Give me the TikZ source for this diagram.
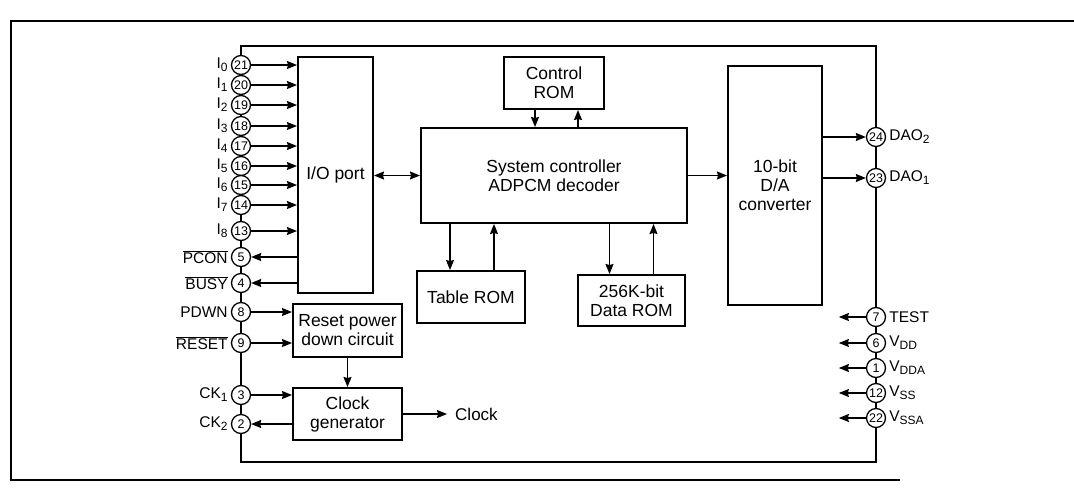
\documentclass[tikz,border=0pt]{standalone}
\usepackage{fontspec}
\setmainfont{Liberation Sans}
\usepackage{tikz}
\usetikzlibrary{arrows.meta,positioning,backgrounds}
\newcommand{\pinsub}[1]{\raisebox{-0.35ex}{\fontsize{12}{12}\selectfont #1}}

\begin{document}
\begin{tikzpicture}[
    x=1pt, y=-1pt,
    block/.style={rectangle, draw, line width=2pt, inner sep=0pt, align=center, font=\fontsize{17.5}{19}\selectfont},
    pin/.style={circle, draw, fill=white, line width=1.3pt, minimum size=19pt, inner sep=0pt, font=\fontsize{12.5}{12.5}\selectfont},
    lab/.style={font=\fontsize{15.5}{15.5}\selectfont, inner sep=3pt},
    arrow/.style={-{Stealth[length=10pt, width=8pt, inset=1pt]}, line width=1.3pt},
    chip/.style={line width=2pt},
]
    \useasboundingbox (0,0) rectangle (1074,491);
    \draw[line width=1.5pt] (1074,21) -- (11,21) -- (11,480) -- (900,480);

    % Blocks
    \node[block, minimum width=266pt, minimum height=95pt] (sys) at (554,175.5) {System controller\\ADPCM decoder};
    \node[block, minimum width=100pt, minimum height=52pt, above=17pt of sys] (ctrl) {Control\\ROM};
    \node[block, minimum width=75pt, minimum height=236pt] (io) at (335.5,175) {I/O port};
    \node[block, minimum width=108pt, minimum height=52pt] (tab) at (471,297) {Table ROM};
    \node[block, minimum width=107pt, minimum height=51pt] (dat) at (631.5,300.5) {256K-bit\\Data ROM};
    \node[block, minimum width=94pt, minimum height=239pt] (dac) at (775,185.5) {10-bit\\D/A\\converter};
    \node[block, minimum width=109pt, minimum height=53pt] (rst) at (347.5,330.5) {Reset power\\down circuit};
    \node[block, minimum width=109pt, minimum height=52pt, below=29pt of rst] (clk) {Clock\\generator};
    \node[right=52pt of clk, inner sep=0pt, font=\fontsize{17}{17}\selectfont] (clkout) {Clock};

    % Left pins
    \node[pin, label={[lab]left:I\pinsub{0}}] (p21) at (241,65) {21};
    \node[pin, label={[lab]left:I\pinsub{1}}] (p20) at (241,85) {20};
    \node[pin, label={[lab]left:I\pinsub{2}}] (p19) at (241,105) {19};
    \node[pin, label={[lab]left:I\pinsub{3}}] (p18) at (241,126) {18};
    \node[pin, label={[lab]left:I\pinsub{4}}] (p17) at (241,146) {17};
    \node[pin, label={[lab]left:I\pinsub{5}}] (p16) at (241,166) {16};
    \node[pin, label={[lab]left:I\pinsub{6}}] (p15) at (241,185) {15};
    \node[pin, label={[lab]left:I\pinsub{7}}] (p14) at (241,205) {14};
    \node[pin, label={[lab]left:I\pinsub{8}}] (p13) at (241,231) {13};
    \node[pin, label={[lab]left:$\overline{\mbox{PCON}}$}] (p5) at (241,257) {5};
    \node[pin, label={[lab]left:$\overline{\mbox{BUSY}}$}] (p4) at (241,283) {4};
    \node[pin, label={[lab]left:PDWN}] (p8) at (241,312) {8};
    \node[pin, label={[lab]left:$\overline{\mbox{RESET}}$}] (p9) at (241,343) {9};
    \node[pin, label={[lab]left:CK\pinsub{1}}] (p3) at (241,395) {3};
    \node[pin, label={[lab]left:CK\pinsub{2}}] (p2) at (241,424) {2};

    % Right pins
    \node[pin, label={[lab]right:DAO\pinsub{2}}] (p24) at (876,137) {24};
    \node[pin, label={[lab]right:DAO\pinsub{1}}] (p23) at (876,178) {23};
    \node[pin, label={[lab]right:TEST}] (p7) at (876,317) {7};
    \node[pin, label={[lab]right:V\pinsub{DD}}] (p6) at (876,343) {6};
    \node[pin, label={[lab]right:V\pinsub{DDA}}] (p1) at (876,368) {1};
    \node[pin, label={[lab]right:V\pinsub{SS}}] (p12) at (876,393) {12};
    \node[pin, label={[lab]right:V\pinsub{SSA}}] (p22) at (876,418) {22};

    % Package outline
    \coordinate (ctop) at (560,46);
    \coordinate (cbot) at (560,462);
    \begin{scope}[on background layer]
        \draw[chip] (p21.center) -- (p2.center);
        \draw[chip] (p21.center) |- (ctop) -| (p24.center);
        \draw[chip] (p24.center) -- (p22.center);
        \draw[chip] (p2.center) |- (cbot) -| (p22.center);
    \end{scope}

    % Inputs to I/O port
    \draw[arrow] (p21) -- (p21 -| io.west);
    \draw[arrow] (p20) -- (p20 -| io.west);
    \draw[arrow] (p19) -- (p19 -| io.west);
    \draw[arrow] (p18) -- (p18 -| io.west);
    \draw[arrow] (p17) -- (p17 -| io.west);
    \draw[arrow] (p16) -- (p16 -| io.west);
    \draw[arrow] (p15) -- (p15 -| io.west);
    \draw[arrow] (p14) -- (p14 -| io.west);
    \draw[arrow] (p13) -- (p13 -| io.west);
    \draw[arrow] (io.west |- p5) -- (p5);
    \draw[arrow] (io.west |- p4) -- (p4);

    % Reset and clock
    \draw[arrow] (p8) -- (p8 -| rst.west);
    \draw[arrow] (p9) -- (p9 -| rst.west);
    \draw[arrow] (rst.south) -- (rst.south |- clk.north);
    \draw[arrow] (p3) -- (p3 -| clk.west);
    \draw[arrow] (clk.west |- p2) -- (p2);
    \draw[arrow] (clk) -- ([xshift=-8pt]clkout.west);

    % Controller links
    \draw[arrow, {Stealth[length=10pt, width=8pt, inset=1pt]}-{Stealth[length=10pt, width=8pt, inset=1pt]}] (io.east |- sys.west) -- (sys.west);
    \draw[arrow] (sys.east) -- (sys.east -| dac.west);
    \draw[arrow] ([xshift=-19pt]ctrl.south) -- ([xshift=-19pt]ctrl.south |- sys.north);
    \draw[arrow] ([xshift=24pt]ctrl.south |- sys.north) -- ([xshift=24pt]ctrl.south);
    \draw[arrow] ([xshift=-21pt]tab.north |- sys.south) -- ([xshift=-21pt]tab.north);
    \draw[arrow] ([xshift=23pt]tab.north) -- ([xshift=23pt]tab.north |- sys.south);
    \draw[arrow] ([xshift=-22pt]dat.north |- sys.south) -- ([xshift=-22pt]dat.north);
    \draw[arrow] ([xshift=22pt]dat.north) -- ([xshift=22pt]dat.north |- sys.south);

    % Outputs
    \draw[arrow] (dac.east |- p24) -- (p24);
    \draw[arrow] (dac.east |- p23) -- (p23);
    \draw[arrow] (p7) -- ([xshift=-27pt]p7.west);
    \draw[arrow] (p6) -- ([xshift=-27pt]p6.west);
    \draw[arrow] (p1) -- ([xshift=-27pt]p1.west);
    \draw[arrow] (p12) -- ([xshift=-27pt]p12.west);
    \draw[arrow] (p22) -- ([xshift=-27pt]p22.west);
\end{tikzpicture}
\end{document}
